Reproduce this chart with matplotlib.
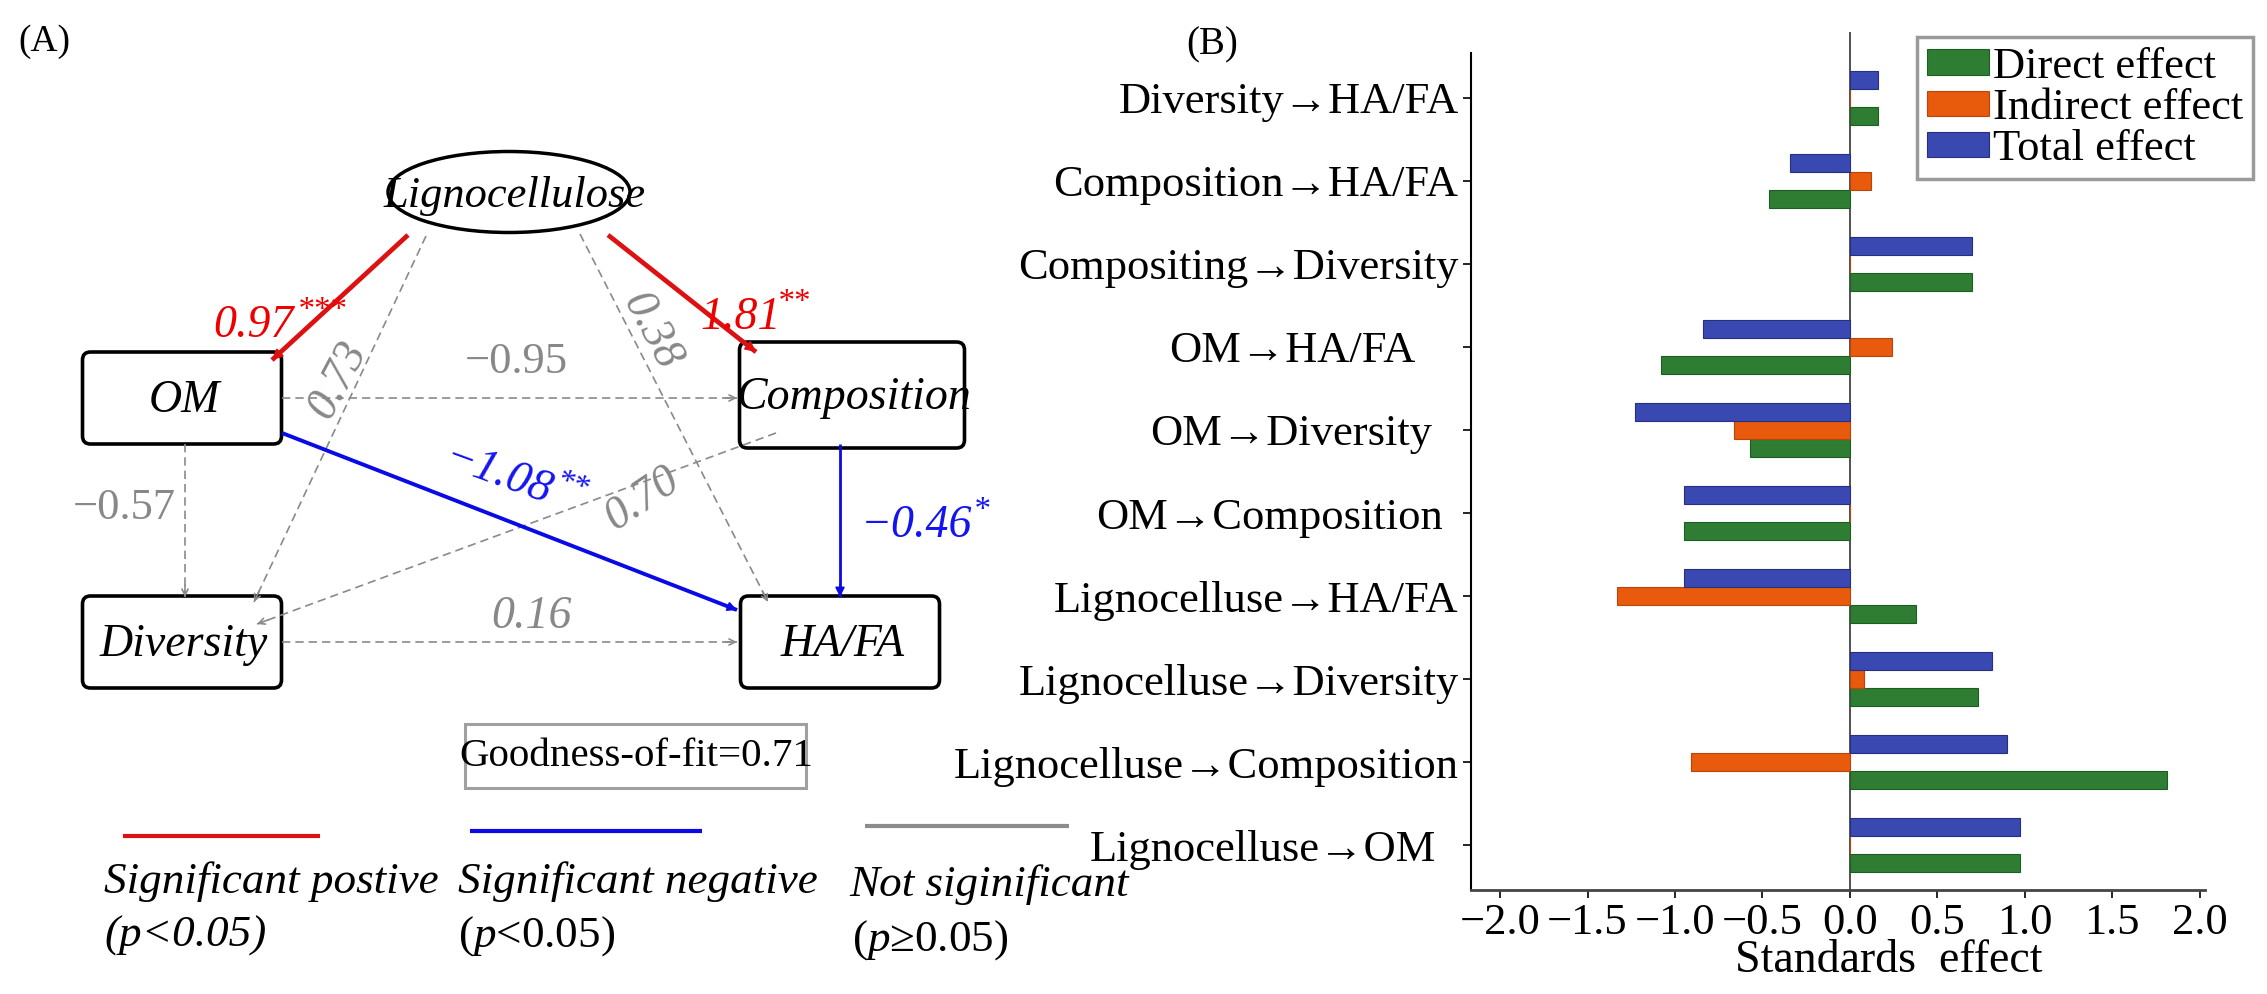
import matplotlib
matplotlib.use('Agg')
import matplotlib.pyplot as plt
import numpy as np
from matplotlib.patches import FancyBboxPatch, Ellipse, Rectangle, FancyArrowPatch
from matplotlib.transforms import ScaledTranslation
from matplotlib.textpath import TextPath
from matplotlib.font_manager import FontProperties

plt.rcParams['font.family'] = ['Liberation Serif', 'DejaVu Serif']
plt.rcParams['mathtext.fontset'] = 'custom'
plt.rcParams['mathtext.rm'] = 'Liberation Serif'
plt.rcParams['mathtext.it'] = 'Liberation Serif:italic'
plt.rcParams['mathtext.bf'] = 'Liberation Serif:bold'

# ---------------- data: panel B (listed top to bottom) ----------------
effects = ["Diversity→HA/FA", "Composition→HA/FA", "Compositing→Diversity",
           "OM→HA/FA", "OM→Diversity", "OM→Composition",
           "Lignocelluse→HA/FA", "Lignocelluse→Diversity",
           "Lignocelluse→Composition", "Lignocelluse→OM"]
direct_effect = [0.16, -0.46, 0.70, -1.08, -0.57, -0.95, 0.38, 0.73, 1.81, 0.97]
indirect_effect = [0.00, 0.12, 0.00, 0.24, -0.66, 0.00, -1.33, 0.08, -0.91, 0.00]
total_effect = [0.16, -0.34, 0.70, -0.84, -1.23, -0.95, -0.95, 0.81, 0.90, 0.97]
xticks_B = [-2.0, -1.5, -1.0, -0.5, 0.0, 0.5, 1.0, 1.5, 2.0]

# ---------------- data: panel A (path model) ----------------
path_from = ["Lignocellulose", "Lignocellulose", "Lignocellulose", "Lignocellulose",
             "OM", "OM", "Composition", "Diversity", "OM", "Composition"]
path_to = ["OM", "Composition", "Diversity", "HA/FA",
           "Composition", "Diversity", "Diversity", "HA/FA", "HA/FA", "HA/FA"]
path_coef = ["0.97", "1.81", "0.73", "0.38", "−0.95", "−0.57", "0.70", "0.16", "−1.08", "−0.46"]
path_stars = ["***", "**", "", "", "", "", "", "", "**", "*"]
path_sign = ["pos", "pos", "ns", "ns", "ns", "ns", "ns", "ns", "neg", "neg"]
goodness_of_fit = 0.71

W, H = 2267, 994
PX = 100 / 72
fig = plt.figure(figsize=(W / 100, H / 100), dpi=100)

# ---------------- panel A: diagram drawn in pixel space ----------------
axA = fig.add_axes([0, 0, 1, 1])
axA.set_xlim(0, W)
axA.set_ylim(H, 0)
axA.axis('off')

RED_L, RED_T = '#DD1111', '#EE0000'
BLUE_L, BLUE_T = '#0A0AE6', '#1414F0'
GRAY_L, GRAY_T = '#8A8A8A', '#888888'

# node layout (centre x, centre y, width, height)
nodes = {
    "OM": (182, 398, 199, 92),
    "Composition": (852, 395, 225, 106),
    "Diversity": (182, 642, 199, 92),
    "HA/FA": (840, 642, 199, 92),
}
ell = (509, 192, 242, 81)
axA.add_patch(Ellipse((ell[0], ell[1]), ell[2], ell[3], fill=False, lw=2.5, ec='black'))
axA.text(515, 196, "Lignocellulose", ha='center', va='center', fontsize=32, style='italic')
for name, (cx, cy, w, h) in nodes.items():
    axA.add_patch(FancyBboxPatch((cx - w / 2 + 8, cy - h / 2 + 8), w - 16, h - 16,
                                 boxstyle="round,pad=8", fill=False, lw=2.6, ec='black'))
    axA.text(cx + 2, cy + 3, name, ha='center', va='center', fontsize=33, style='italic')

# edge layout: start / end points and label placement
edge_pts = [((408, 235), (272, 360)), ((608, 235), (756, 352)),
            ((426, 236), (254, 602)), ((580, 234), (768, 602)),
            ((282, 398), (737, 398)), ((185, 444), (185, 597)),
            ((776, 433), (257, 624)), ((282, 642), (737, 642)),
            ((282, 433), (737, 610)), ((840, 444), (840, 597))]
label_pos = [(280, 322), (755, 314), (335, 378), (655, 330), (516, 358),
             (125, 504), (641, 496), (532, 613), (515, 478), (925, 522)]
label_rot = [0, 0, 62, -62, 0, 0, 34, 0, -20, 0]
label_italic = [True, True, True, True, False, False, True, True, True, True]

style_map = {
    "pos": dict(color=RED_L, tcolor=RED_T, lw=3.4, ls='-', head='-|>', ms=16),
    "neg": dict(color=BLUE_L, tcolor=BLUE_T, lw=2.8, ls='-', head='-|>', ms=14),
    "ns": dict(color=GRAY_L, tcolor=GRAY_T, lw=1.2, ls=(0, (5, 3)), head='->', ms=11),
}


def text_width(s, fs, italic):
    prop = FontProperties(family='Liberation Serif', style='italic' if italic else 'normal')
    return TextPath((0, 0), s, size=fs, prop=prop).get_extents().x1 * PX


def coef_label(cx, cy, num, stars, color, rot, italic, fs):
    r = np.deg2rad(rot)
    u = np.array([np.cos(r), -np.sin(r)])      # along the text (pixel coords, y down)
    v = np.array([-np.sin(r), -np.cos(r)])     # visually "up" for the text
    fs_s = fs * 0.72
    w1 = text_width(num, fs, italic) + 2
    w2 = text_width(stars, fs_s, italic) if stars else 0
    base = np.array([cx, cy], float) - u * (w1 + w2) / 2 - v * 0.33 * fs * PX
    sty = 'italic' if italic else 'normal'
    axA.text(base[0], base[1], num, ha='left', va='baseline', rotation=rot,
             rotation_mode='anchor', fontsize=fs, color=color, style=sty)
    if stars:
        sp = base + u * w1 + v * 0.40 * fs * PX
        axA.text(sp[0], sp[1], stars, ha='left', va='baseline', rotation=rot,
                 rotation_mode='anchor', fontsize=fs_s, color=color, style=sty)


for i, (p0, p1) in enumerate(edge_pts):
    st = style_map[path_sign[i]]
    lw = st['lw'] if i != 9 else 2.0
    axA.plot([p0[0], p1[0]], [p0[1], p1[1]], color=st['color'], lw=lw, ls=st['ls'],
             solid_capstyle='butt')
    d = np.array(p1, float) - np.array(p0, float)
    d /= np.hypot(*d)
    q = np.array(p1, float) - d * 12
    axA.add_patch(FancyArrowPatch(tuple(q), p1, arrowstyle=st['head'], mutation_scale=st['ms'],
                                  color=st['color'], lw=1.2, shrinkA=0, shrinkB=0))
    coef_label(label_pos[i][0], label_pos[i][1], path_coef[i], path_stars[i], st['tcolor'],
               label_rot[i], label_italic[i], 33 if label_italic[i] else 32)

# significance legend for panel A
leg_lines = [((123, 320), 836, RED_L), ((470, 702), 831, BLUE_L), ((865, 1069), 826, '#8C8C8C')]
for (x0, x1), yy, c in leg_lines:
    axA.plot([x0, x1], [yy, yy], color=c, lw=3.0, solid_capstyle='butt')
axA.add_patch(Rectangle((465, 724), 341, 64, fill=False, ec='#A0A0A0', lw=2.2))
axA.text(636, 757, "Goodness-of-fit=%.2f" % goodness_of_fit, ha='center', va='center', fontsize=29.5)
axA.text(104, 882, "Significant postive", ha='left', va='center', fontsize=32.5, style='italic')
axA.text(104, 936, "(p<0.05)", ha='left', va='center', fontsize=32.5, style='italic')
axA.text(458, 882, "Significant negative", ha='left', va='center', fontsize=32.5, style='italic')
axA.text(458, 936, r"($\mathit{p}$<0.05)", ha='left', va='center', fontsize=32.5)
axA.text(849, 885, "Not siginificant", ha='left', va='center', fontsize=32.5, style='italic')
axA.text(852, 940, r"($\mathit{p}$≥0.05)", ha='left', va='center', fontsize=32.5)

fig.text(44 / W, 1 - 42 / H, "(A)", ha='center', va='center', fontsize=27)
fig.text(1212 / W, 1 - 45 / H, "(B)", ha='center', va='center', fontsize=28)

# ---------------- panel B: bar chart ----------------
axB = fig.add_axes([1471 / W, 1 - 890 / H, (2205 - 1471) / W, (890 - 32) / H])
n = len(effects)
ypos = np.arange(n)[::-1].astype(float)
bh = 0.22
c_direct, c_indirect, c_total = '#2E7D32', '#E85A0C', '#3A48B2'
axB.barh(ypos - bh, direct_effect, height=bh, color=c_direct, edgecolor='#1F5E23', lw=0.8,
         label='Direct effect')
axB.barh(ypos, indirect_effect, height=bh, color=c_indirect, edgecolor='#B8460A', lw=0.8,
         label='Indirect effect')
axB.barh(ypos + bh, total_effect, height=bh, color=c_total, edgecolor='#26307E', lw=0.8,
         label='Total effect')
axB.axvline(0, color='#333333', lw=1.2, zorder=0.5)
axB.set_xlim(-2.166, 2.03)
axB.set_ylim(-0.542, 9.795)
axB.set_yticks(ypos)
axB.set_yticklabels(effects, fontsize=32)
axB.set_xticks(xticks_B)
axB.set_xticklabels(["%.1f" % v if v >= 0 else "−%.1f" % abs(v) for v in xticks_B], fontsize=32)
axB.tick_params(axis='y', length=6, width=1.2, pad=3, direction='out')
axB.tick_params(axis='x', length=6, width=1.2, pad=3, direction='out')
for sp in ['top', 'right']:
    axB.spines[sp].set_visible(False)
axB.spines['left'].set_bounds(-0.542, 9.54)
axB.spines['left'].set_linewidth(1.5)
axB.spines['bottom'].set_linewidth(2.0)
axB.spines['bottom'].set_color('#444444')

# extra right offset of some category labels (points), as in the figure
label_shift = [0, 0, 0, 31, 19, 11, 0, 0, 0, 16]
for lab, off in zip(axB.get_yticklabels(), label_shift):
    lab.set_transform(lab.get_transform() + ScaledTranslation(-off / 72, 0, fig.dpi_scale_trans))

axB.text(0.569, -0.083, "Standards  effect", transform=axB.transAxes, ha='center', va='center',
         fontsize=33)

handles, labels = axB.get_legend_handles_labels()
leg = axB.legend(handles, labels, loc='upper left', bbox_to_anchor=(1917 / W, 1 - 37 / H),
                 bbox_transform=fig.transFigure, borderaxespad=0, fontsize=32,
                 handlelength=1.4, handleheight=0.5, handletextpad=0.08, labelspacing=0.03,
                 borderpad=0.22, fancybox=False, framealpha=1)
leg.get_frame().set_edgecolor('#9A9A9A')
leg.get_frame().set_linewidth(2.5)

fig.savefig('out.png', dpi=100)
